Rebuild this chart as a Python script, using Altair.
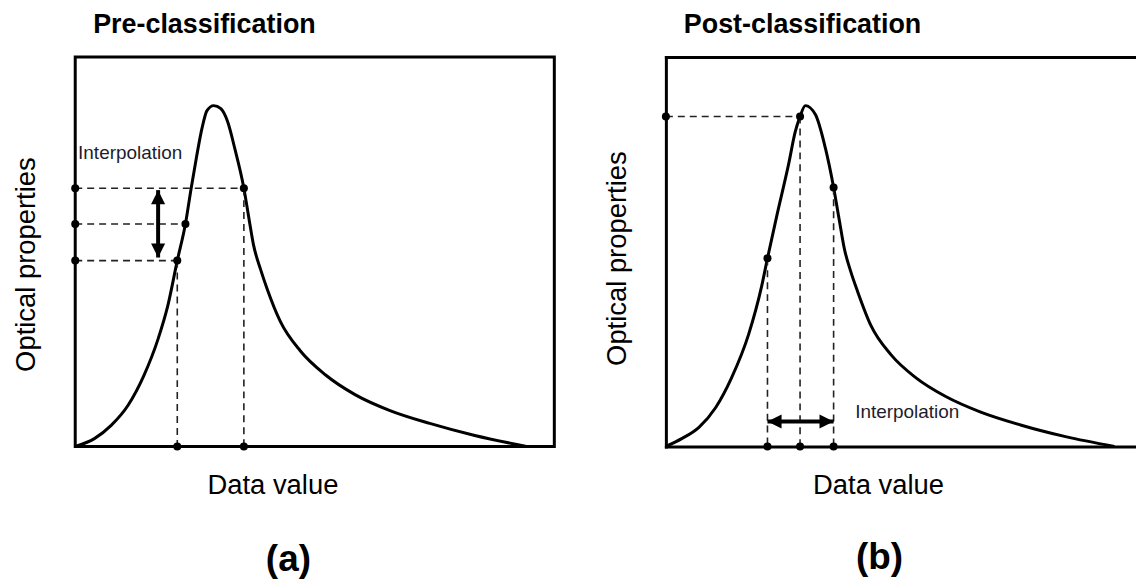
import altair as alt
import pandas as pd

FONT = "Liberation Sans"

# ---------------- Panel (a): Pre-classification ----------------
a_curve_x = [0, 4.0, 7.5, 11.0, 14.3, 17.3, 19.3, 21.3, 23.0, 24.2, 25.3, 26.5, 27.5, 28.9,
             30.4, 31.8, 33.3, 35.2, 36.3, 37.2, 38.7, 40.1, 42.8, 47.0, 52.2, 58.4, 65.7,
             74.0, 83.4, 94.2]
a_curve_y = [0, 2.0, 5.4, 10.5, 18.1, 27.6, 36.0, 47.7, 57.1, 66.3, 74.2, 81.9, 86.2, 87.5,
             86.7, 83.4, 76.5, 66.3, 58.2, 51.8, 45.4, 40.3, 32.1, 24.5, 18.4, 13.3, 9.2,
             5.9, 2.8, 0]
a_dot_x = [21.3, 23.0, 35.2]          # sample points on the curve
a_dot_y = [47.7, 57.1, 66.3]
a_drop_x = [21.3, 35.2]               # data values dropped to the x axis
a_drop_y = [47.7, 66.3]
a_arrow_x = [17.3, 17.3]              # vertical interpolation arrow
a_arrow_y = [48.5, 65.8]
a_label = ["Interpolation"]
a_label_x = [0.6]
a_label_y = [75.3]

# ---------------- Panel (b): Post-classification ----------------
b_curve_x = [0, 3.3, 6.9, 10.4, 13.7, 17.3, 20.0, 21.2, 23.2, 25.6, 27.0, 28.0, 29.1,
             31.2, 33.3, 35.0, 36.2, 37.2, 38.6, 40.0, 42.8, 47.0, 52.2, 58.4, 65.7,
             74.0, 83.4, 93.6]
b_curve_y = [0, 2.0, 4.9, 10.0, 17.6, 28.9, 41.2, 48.3, 59.5, 72.4, 80.8, 84.7, 87.5,
             85.2, 76.5, 66.5, 58.0, 51.0, 44.8, 39.8, 31.0, 23.5, 17.6, 12.8, 8.8,
             5.5, 2.5, 0]
b_dot_x = [21.2, 28.0, 35.0]
b_dot_y = [48.3, 84.7, 66.5]
b_level_x = [28.0]
b_level_y = [84.7]
b_arrow_x = [21.2, 35.0]              # horizontal interpolation arrow
b_arrow_y = [6.4, 6.4]
b_label = ["Interpolation"]
b_label_x = [39.5]
b_label_y = [8.7]

H = 391
DASH = [7, 5]
UP = "M0,0L1,2L-1,2Z"
DOWN = "M0,0L1,-2L-1,-2Z"
RIGHT = "M0,0L-2,1L-2,-1Z"
LEFT = "M0,0L2,1L2,-1Z"

TXT = dict(titleFont=FONT, titleFontSize=27.5, titleFontWeight="normal",
           titleColor="black", titleBaseline="alphabetic", titleAlign="center")
FRAME = dict(labels=False, ticks=False, grid=False, domainColor="black", domainWidth=3,
             domainCap="square")


def panel(curve_x, curve_y, segs, dots, heads, label_df, title, x_title_x, y_title_y,
          width, x_max, boxed):
    xs = alt.Scale(domain=[0, x_max], nice=False, zero=False)
    ys = alt.Scale(domain=[0, 100], nice=False, zero=False)
    dom = dict(domain=not boxed)
    ax = alt.Axis(title="Data value", titleX=x_title_x, titleY=47, **TXT, **FRAME, **dom)
    ay = alt.Axis(title="Optical properties", titleX=-41, titleY=y_title_y,
                  titleAngle=270, **TXT, **FRAME, **dom)
    curve = alt.Chart(pd.DataFrame({"x": curve_x, "y": curve_y})).mark_line(
        color="black", strokeWidth=3, interpolate="monotone"
    ).encode(
        x=alt.X("x:Q", scale=xs, axis=ax),
        y=alt.Y("y:Q", scale=ys, axis=ay),
    )
    # in panel (b) the frame's top edge is the line of a second x axis placed on top
    if boxed:
        dash_x = alt.X("x:Q")
        nx = {}
    else:
        dash_x = alt.X("x:Q", axis=alt.Axis(orient="top", title=None, **FRAME))
        nx = dict(axis=None)
    dashed = alt.Chart(segs).mark_rule(
        color="#222222", strokeWidth=1.6, strokeDash=DASH
    ).encode(x=dash_x, y="y:Q", x2="x2:Q", y2="y2:Q")
    pts = alt.Chart(dots).mark_circle(color="black", size=65, opacity=1).encode(
        x=alt.X("x:Q", **nx), y="y:Q")
    layers = [curve, dashed, pts]
    shaft_df, h1, p1, h2, p2 = heads
    layers.append(alt.Chart(shaft_df).mark_rule(color="black", strokeWidth=4).encode(
        x=alt.X("x:Q", **nx), y="y:Q", x2="x2:Q", y2="y2:Q"))
    layers.append(alt.Chart(h1).mark_point(shape=p1, filled=True, size=200, color="black",
                                           opacity=1, strokeWidth=0).encode(
        x=alt.X("x:Q", **nx), y="y:Q"))
    layers.append(alt.Chart(h2).mark_point(shape=p2, filled=True, size=200, color="black",
                                           opacity=1, strokeWidth=0).encode(
        x=alt.X("x:Q", **nx), y="y:Q"))
    layers.append(alt.Chart(label_df).mark_text(
        font=FONT, fontSize=19, color="#1c1c2e", align="left", baseline="middle"
    ).encode(x=alt.X("x:Q", **nx), y="y:Q", text="t:N"))
    view = (alt.ViewBackground(stroke="black", strokeWidth=3) if boxed
            else alt.ViewBackground(strokeWidth=0))
    out = alt.layer(*layers).properties(
        width=width, height=H, view=view,
        title=alt.TitleParams(title, anchor="start", frame="group", dx=18, offset=18,
                              font=FONT, fontSize=27, fontWeight="bold", color="black"),
    )
    if not boxed:
        out = out.resolve_axis(x="independent")
    return out


# ---- build panel (a) tables
a_segs = pd.DataFrame({
    "x": [0] * len(a_dot_x) + a_drop_x,
    "y": a_dot_y + a_drop_y,
    "x2": a_dot_x + a_drop_x,
    "y2": a_dot_y + [0] * len(a_drop_x),
})
a_dots = pd.DataFrame({
    "x": a_dot_x + [0] * len(a_dot_y) + a_drop_x,
    "y": a_dot_y + a_dot_y + [0] * len(a_drop_x),
})
a_heads = (
    pd.DataFrame({"x": [a_arrow_x[0]], "y": [a_arrow_y[0]], "x2": [a_arrow_x[1]], "y2": [a_arrow_y[1]]}),
    pd.DataFrame({"x": [a_arrow_x[1]], "y": [a_arrow_y[1]]}), UP,
    pd.DataFrame({"x": [a_arrow_x[0]], "y": [a_arrow_y[0]]}), DOWN,
)
a_lab = pd.DataFrame({"x": a_label_x, "y": a_label_y, "t": a_label})

# ---- build panel (b) tables
b_segs = pd.DataFrame({
    "x": [0] * len(b_level_x) + b_dot_x,
    "y": b_level_y + b_dot_y,
    "x2": b_level_x + b_dot_x,
    "y2": b_level_y + [0] * len(b_dot_x),
})
b_dots = pd.DataFrame({
    "x": b_dot_x + [0] * len(b_level_y) + b_dot_x,
    "y": b_dot_y + b_level_y + [0] * len(b_dot_x),
})
b_heads = (
    pd.DataFrame({"x": [b_arrow_x[0]], "y": [b_arrow_y[0]], "x2": [b_arrow_x[1]], "y2": [b_arrow_y[1]]}),
    pd.DataFrame({"x": [b_arrow_x[1]], "y": [b_arrow_y[1]]}), RIGHT,
    pd.DataFrame({"x": [b_arrow_x[0]], "y": [b_arrow_y[0]]}), LEFT,
)
b_lab = pd.DataFrame({"x": b_label_x, "y": b_label_y, "t": b_label})

pa = panel(a_curve_x, a_curve_y, a_segs, a_dots, a_heads, a_lab, "Pre-classification",
           198, 208, 481, 100, True)
pb = panel(b_curve_x, b_curve_y, b_segs, b_dots, b_heads, b_lab, "Post-classification",
           213, 202, 472, 98.1, False)


def sub(p, tag, dx):
    return alt.hconcat(p, title=alt.TitleParams(tag, orient="bottom", anchor="middle", offset=42,
                                                dx=dx, font=FONT, fontSize=37, fontWeight="bold",
                                                color="black"))


chart = alt.hconcat(sub(pa, "(a)", 5), sub(pb, "(b)", 10), spacing=47).properties(
    padding={"left": 2.5, "top": 0, "right": 0, "bottom": 0}
)

chart.save("out.html", embed_options={"renderer": "svg", "actions": False})
